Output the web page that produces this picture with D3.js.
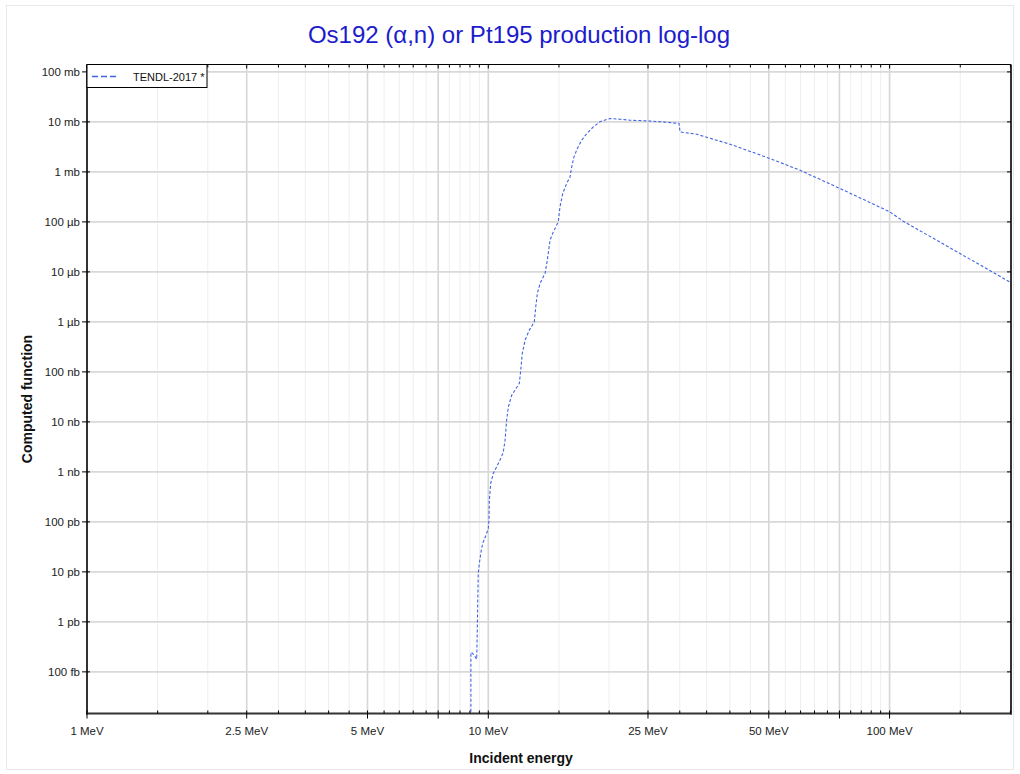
<!DOCTYPE html>
<html><head><meta charset="utf-8">
<script src="https://cdn.jsdelivr.net/npm/d3@7"></script>
<style>
body{margin:0;background:#fff}
text{font-family:"Liberation Sans",Arial,Helvetica,sans-serif}
</style>
</head><body>
<svg id="chart" width="1020" height="774"></svg>
<script>
// ---- data (energy in MeV, cross-section in mb) ----
const energyMeV = [9.05, 9.05, 9.145, 9.357, 9.39, 9.44, 9.50, 9.575, 9.68, 9.87, 10.0, 10.04, 10.06, 10.14, 10.29, 10.49, 10.74, 10.90, 11.01, 11.11, 11.22, 11.44, 11.95, 12.07, 12.15, 12.35, 12.65, 13.02, 13.13, 13.25, 13.46, 13.85, 14.03, 14.25, 14.52, 14.94, 15.09, 15.33, 15.68, 15.98, 16.14, 16.35, 16.67, 17.09, 17.59, 18.27, 18.98, 20.11, 21.29, 22.55, 24.81, 27.3, 29.87, 30.05, 33.06, 36.37, 40.03, 44.05, 50.35, 59.8, 75.2, 100.2, 108.2, 149.8, 200.7];
const crossSectionMb = [1e-14, 2.44e-10, 2.33e-10, 1.8e-10, 7.9e-10, 9.3e-9, 1.47e-8, 2.33e-8, 3.7e-8, 5.4e-8, 7.4e-8, 1.08e-7, 2.7e-7, 5.9e-7, 9.3e-7, 1.26e-6, 1.85e-6, 2.5e-6, 4.3e-6, 1.08e-5, 2.0e-5, 3.42e-5, 5.9e-5, 1.26e-4, 2.33e-4, 4.3e-4, 6.8e-4, 1.0e-3, 2.0e-3, 3.7e-3, 5.9e-3, 9.3e-3, 1.71e-2, 4.3e-2, 6.3e-2, 0.1, 0.2, 0.37, 0.59, 0.79, 1.26, 2.0, 2.94, 4.3, 5.86, 7.94, 10.1, 11.7, 11.3, 10.8, 10.5, 10.0, 9.29, 6.3, 5.67, 4.5, 3.58, 2.72, 1.85, 1.08, 0.466, 0.158, 0.103, 0.0233, 6.1e-3];

const xTickValues = [1, 2.5, 5, 10, 25, 50, 100];
const xTickLabels = ["1 MeV", "2.5 MeV", "5 MeV", "10 MeV", "25 MeV", "50 MeV", "100 MeV"];
const yTickValues = [1e-10, 1e-9, 1e-8, 1e-7, 1e-6, 1e-5, 1e-4, 1e-3, 1e-2, 1e-1, 1, 10, 100];
const yTickLabels = ["100 fb", "1 pb", "10 pb", "100 pb", "1 nb", "10 nb", "100 nb", "1 µb", "10 µb", "100 µb", "1 mb", "10 mb", "100 mb"];
const seriesName = "TENDL-2017 *";
const titleText = "Os192 (α,n) or Pt195 production log-log";

// ---- layout ----
const L = 87, R = 1011, T = 64.5, B = 713.5;
const svg = d3.select("#chart");

const x = d3.scaleLog().domain([1, 200.7]).range([L, R]);
const y = d3.scaleLog().domain([1.47e-11, 140.6]).range([B, T]);

// outer frame
svg.append("rect").attr("x", 6.5).attr("y", 5.5).attr("width", 1007).attr("height", 764)
  .attr("fill", "none").attr("stroke", "#e8e8e8").attr("stroke-width", 1);

// minor x ticks (every half unit of each decade)
const minorX = [];
[1, 10, 100].forEach(d => {
  for (let k = 1; k < 10; k += 0.5) {
    const v = k * d;
    if (v >= 1 && v <= 200.7) minorX.push(v);
  }
});
const isMajor = v => {
  const d = Math.pow(10, Math.floor(Math.log10(v) + 1e-9));
  const k = Math.round(v / d * 100) / 100;
  return k === 1 || k === 2.5 || k === 5 || k === 7.5;
};

const grid = svg.append("g");
grid.selectAll("line.vx").data(minorX).join("line")
  .attr("x1", d => x(d)).attr("x2", d => x(d))
  .attr("y1", T).attr("y2", B)
  .attr("stroke", d => isMajor(d) ? "#d6d6d6" : "#eeeeee")
  .attr("stroke-width", d => isMajor(d) ? 1.6 : 1);
grid.selectAll("line.hy").data(yTickValues).join("line")
  .attr("x1", L).attr("x2", R)
  .attr("y1", d => y(d)).attr("y2", d => y(d))
  .attr("stroke", "#d9d9d9").attr("stroke-width", 1.6);

// curve
svg.append("clipPath").attr("id", "clip").append("rect")
  .attr("x", L).attr("y", T).attr("width", R - L).attr("height", B - T);
const pts = energyMeV.map((e, i) => [e, crossSectionMb[i]]);
const line = d3.line().x(d => x(d[0])).y(d => y(d[1]));
svg.append("path").attr("clip-path", "url(#clip)")
  .attr("d", line(pts))
  .attr("fill", "none").attr("stroke", "#3f63e3").attr("stroke-width", 1.1)
  .attr("stroke-dasharray", "3,2");

// axes frame
const axisColor = "#333";
svg.append("line").attr("x1", L).attr("x2", R).attr("y1", T).attr("y2", T)
  .attr("stroke", "#000").attr("stroke-width", 1);
svg.append("line").attr("x1", L - 1).attr("x2", R + 1).attr("y1", B).attr("y2", B)
  .attr("stroke", axisColor).attr("stroke-width", 2);
svg.append("line").attr("x1", L).attr("x2", L).attr("y1", T).attr("y2", B + 1)
  .attr("stroke", axisColor).attr("stroke-width", 2);
svg.append("line").attr("x1", R).attr("x2", R).attr("y1", T).attr("y2", B + 1)
  .attr("stroke", axisColor).attr("stroke-width", 2);

// x ticks bottom & top
svg.selectAll("line.xt").data(minorX).join("line")
  .attr("x1", d => x(d)).attr("x2", d => x(d))
  .attr("y1", B - 3).attr("y2", d => isMajor(d) ? B + 5 : B)
  .attr("stroke", "#000").attr("stroke-width", 1);
svg.selectAll("line.xtt").data(minorX).join("line")
  .attr("x1", d => x(d)).attr("x2", d => x(d))
  .attr("y1", T).attr("y2", d => isMajor(d) ? T + 4 : T + 3)
  .attr("stroke", "#000").attr("stroke-width", 1);
// y ticks left & right
svg.selectAll("line.yt").data(yTickValues).join("line")
  .attr("x1", L - 5).attr("x2", L + 3)
  .attr("y1", d => y(d)).attr("y2", d => y(d))
  .attr("stroke", "#000").attr("stroke-width", 1);
svg.selectAll("line.ytr").data(yTickValues).join("line")
  .attr("x1", R - 4).attr("x2", R)
  .attr("y1", d => y(d)).attr("y2", d => y(d))
  .attr("stroke", "#000").attr("stroke-width", 1);

// tick labels
svg.selectAll("text.xl").data(xTickValues).join("text")
  .attr("x", d => x(d)).attr("y", 735)
  .attr("text-anchor", "middle").attr("font-size", 11.5).attr("fill", "#222")
  .text((d, i) => xTickLabels[i]);
svg.selectAll("text.yl").data(yTickValues).join("text")
  .attr("x", 80).attr("y", d => y(d) + 4)
  .attr("text-anchor", "end").attr("font-size", 11.5).attr("fill", "#222")
  .text((d, i) => yTickLabels[i]);

// axis titles
svg.append("text").attr("x", 521).attr("y", 763)
  .attr("text-anchor", "middle").attr("font-size", 14).attr("font-weight", "bold")
  .attr("fill", "#111").text("Incident energy");
svg.append("text").attr("transform", "translate(32,399) rotate(-90)")
  .attr("text-anchor", "middle").attr("font-size", 14).attr("font-weight", "bold")
  .attr("fill", "#111").text("Computed function");

// title
svg.append("text").attr("x", 519).attr("y", 43)
  .attr("text-anchor", "middle").attr("font-size", 24)
  .attr("fill", "#1c1ccc").text(titleText);

// legend
const lg = svg.append("g");
lg.append("rect").attr("x", 87).attr("y", 64.5).attr("width", 120).attr("height", 23)
  .attr("fill", "#fff").attr("stroke", "#000").attr("stroke-width", 1);
lg.append("line").attr("x1", 92).attr("x2", 119).attr("y1", 76.5).attr("y2", 76.5)
  .attr("stroke", "#3f63e3").attr("stroke-width", 1.5).attr("stroke-dasharray", "6,3");
lg.append("text").attr("x", 133).attr("y", 80.5).attr("font-size", 11)
  .attr("fill", "#111").text(seriesName);
</script>
</body></html>
